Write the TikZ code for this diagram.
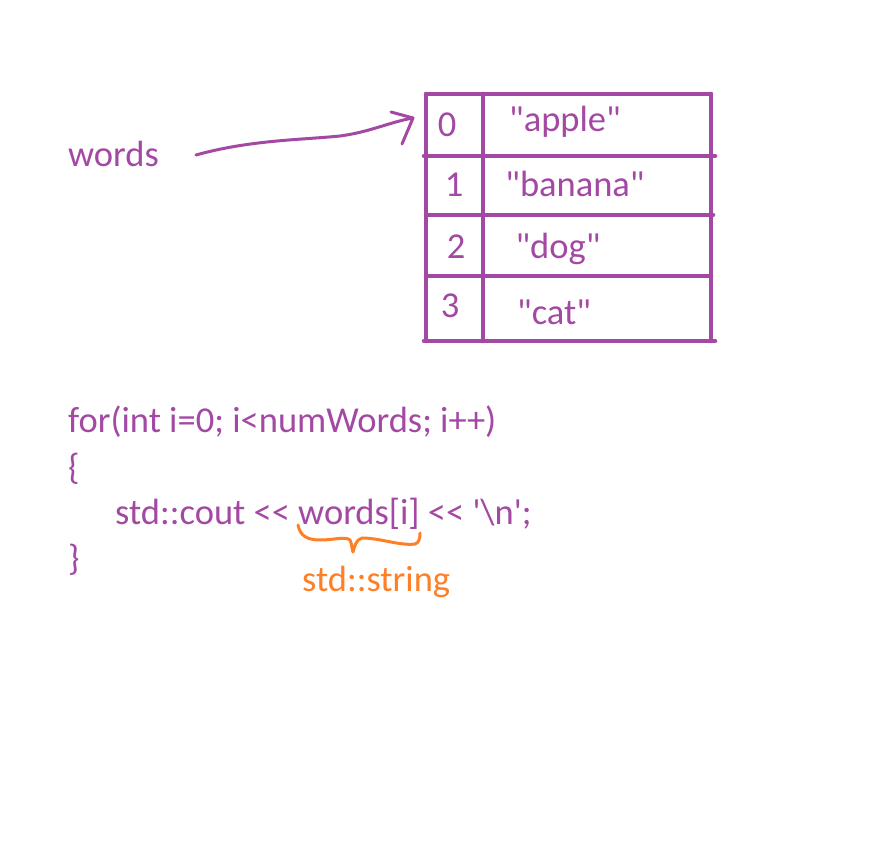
\documentclass[tikz,border=0pt]{standalone}
\usepackage{fontspec}
\setmainfont{Carlito}[Ligatures=TeXOff]
\definecolor{pur}{HTML}{A349A4}
\definecolor{org}{HTML}{FF7F27}
\begin{document}
\begin{tikzpicture}[x=1pt,y=-1pt,
  txt/.style={text=pur,font=\fontsize{36.5}{44}\selectfont,inner sep=0pt},
  otxt/.style={text=org,font=\fontsize{36.5}{44}\selectfont,inner sep=0pt},
  grid/.style={draw=pur,line width=4.5pt,line cap=round},
  hand/.style={draw=pur,line width=3pt,line cap=round,line join=round}]
\useasboundingbox[fill=white] (0,0) rectangle (896,866);
% table
\draw[grid] (426,94) -- (711,94);
\draw[grid] (424,156) -- (715,156);
\draw[grid] (426,215) -- (713,215);
\draw[grid] (426,276) -- (711,276);
\draw[grid] (424,341) -- (715,341);
\draw[grid] (426,94) -- (426,341);
\draw[grid] (483,94) -- (483,341);
\draw[grid] (711,94) -- (711,341);
% cells
\node[txt,anchor=base] (i0) at (447,137) {0};
\node[txt,anchor=base] (i1) at (454,197) {1};
\node[txt,anchor=base] (i2) at (456,259) {2};
\node[txt,anchor=base] (i3) at (450,317) {3};
\node[txt,anchor=base] (v0) at (565,132) {"apple"};
\node[txt,anchor=base] (v1) at (575,197) {"banana"};
\node[txt,anchor=base] (v2) at (558,259) {"dog"};
\node[txt,anchor=base] (v3) at (554,324) {"cat"};
% words label and arrow
\node[txt,anchor=base west] (words) at (68,167) {words};
\coordinate (astart) at (196,155);
\coordinate (atip) at (413,118);
\draw[hand] (astart) .. controls (250,140) and (300,140) .. (340,136)
   .. controls (370,132) and (390,122) .. (atip);
\draw[hand] (391,112) -- (atip) -- (402,144);
% code
\node[txt,anchor=base west] (l1) at (68,432) {for(int i=0; i<numWords; i++)};
\node[txt,anchor=base west] (l2) at (68,479) {\{};
\node[txt,anchor=base west] (l3) at (115,524) {std::cout << words[i] << '\textbackslash n';};
\node[txt,anchor=base west] (l4) at (68,570) {\}};
% brace
\draw[draw=org,line width=3pt,line cap=round,line join=round]
  (298,525) .. controls (300,535) and (306,540) .. (320,540)
  .. controls (335,540) and (345,536) .. (350,540)
  .. controls (352,544) and (352,550) .. (353,552)
  .. controls (355,545) and (356,540) .. (362,538)
  .. controls (380,538) and (400,546) .. (415,544)
  .. controls (419,543) and (420,538) .. (420,533);
\node[otxt,anchor=base west] (typ) at (302,591) {std::string};
\end{tikzpicture}
\end{document}
